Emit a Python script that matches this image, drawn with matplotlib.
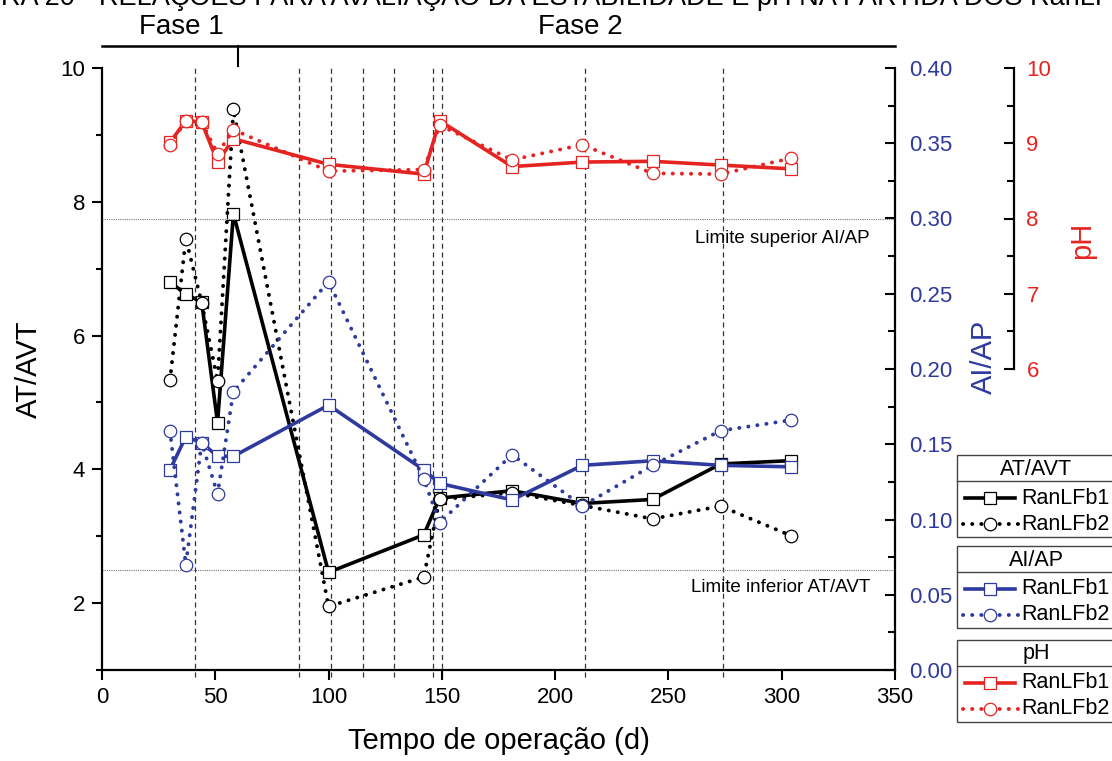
import numpy as np
import matplotlib
matplotlib.use('Agg')
import matplotlib.pyplot as plt
from matplotlib.lines import Line2D
from matplotlib.patches import Rectangle
import matplotlib.transforms as mtransforms

plt.rcParams['font.family'] = ['Liberation Sans', 'DejaVu Sans']

# dados
dias = [30, 37, 44, 51, 58, 100, 142, 149, 181, 212, 243, 273, 304]
atavt_b1 = [6.80, 6.62, 6.50, 4.70, 7.82, 2.46, 3.02, 3.57, 3.68, 3.49, 3.55, 4.08, 4.13]
atavt_b2 = [5.33, 7.45, 6.49, 5.32, 9.38, 1.95, 2.39, 3.55, 3.65, 3.46, 3.26, 3.45, 3.01]
aiap_b1 = [0.133, 0.155, 0.151, 0.142, 0.142, 0.176, 0.133, 0.124, 0.113, 0.136, 0.139, 0.136, 0.135]
aiap_b2 = [0.159, 0.070, 0.151, 0.117, 0.185, 0.258, 0.127, 0.098, 0.143, 0.109, 0.136, 0.159, 0.166]
ph_b1 = [9.01, 9.30, 9.28, 8.75, 9.06, 8.72, 8.59, 9.30, 8.69, 8.75, 8.76, 8.71, 8.66]
ph_b2 = [8.98, 9.30, 9.28, 8.86, 9.18, 8.63, 8.65, 9.24, 8.78, 8.98, 8.60, 8.59, 8.80]

linhas_tracejadas = [41, 87, 101, 115, 129, 146, 150, 213, 274]
limite_aiap = 0.30
limite_atavt = 2.5
divisao_fase = 60

PRETO = 'black'
AZUL = '#2e3a9e'
VERMELHO = '#e52421'
dots = (0, (0.05, 2.3))

W, H = 1112, 761
fig = plt.figure(figsize=(W / 100, H / 100), dpi=100)
ax = fig.add_axes([102 / W, (H - 670) / H, 793 / W, 602 / H])
ax2 = ax.twinx()
ax3 = ax.twinx()

# eixo principal AT/AVT
ax.set_xlim(0, 350)
ax.set_ylim(1, 10)
ax.set_xticks(np.arange(0, 351, 50))
ax.set_yticks([2, 4, 6, 8, 10])
ax.set_yticks([1, 3, 5, 7, 9], minor=True)
ax.spines['top'].set_visible(False)
ax.spines['right'].set_visible(False)
for s in ['left', 'bottom']:
    ax.spines[s].set_linewidth(1.6)
ax.tick_params(axis='both', which='major', direction='out', length=7, width=1.5, labelsize=16, pad=5)
ax.tick_params(axis='y', which='minor', direction='out', length=4, width=1.5)
ax.set_xlabel('Tempo de operação (d)', fontsize=21)
ax.xaxis.set_label_coords(0.5, -0.095)
ax.set_ylabel('AT/AVT', fontsize=21)
ax.yaxis.set_label_coords(-0.075, 0.5)

# linhas verticais e limites
for d in linhas_tracejadas:
    ax.axvline(d, ymin=-0.012, ymax=1, color='#333333', lw=0.9, ls=(0, (4, 3)), clip_on=False, zorder=1)
ax.axhline(limite_atavt, color='#777777', lw=0.8, ls=(0, (1, 1)), zorder=1)
ax2.axhline(limite_aiap, color='#777777', lw=0.8, ls=(0, (1, 1)), zorder=1)
ax.text(339, 7.45, 'Limite superior AI/AP', ha='right', va='center', fontsize=13.5)
ax.text(339, 2.24, 'Limite inferior AT/AVT', ha='right', va='center', fontsize=13.5)

# fases
trans = mtransforms.blended_transform_factory(ax.transData, ax.transAxes)
ax.plot([0, 350], [1.037, 1.037], transform=trans, color='black', lw=1.8, clip_on=False)
ax.plot([divisao_fase, divisao_fase], [1.037, 1.004], transform=trans, color='black', lw=1.5, clip_on=False)
ax.text(35, 1.068, 'Fase 1', transform=trans, ha='center', va='center', fontsize=20)
ax.text(211, 1.068, 'Fase 2', transform=trans, ha='center', va='center', fontsize=20)

# título cortado no topo, como na figura original
fig.text(-0.058, 1 - 5 / H, 'FIGURA 20 - RELAÇÕES PARA AVALIAÇÃO DA ESTABILIDADE E pH NA PARTIDA DOS RanLFb1 E RanLFb2',
         ha='left', va='baseline', fontsize=19.5)

mk = dict(markersize=9, markerfacecolor='white', markeredgewidth=0.9)

# AT/AVT
ax.plot(dias, atavt_b1, color=PRETO, lw=2.6, marker='s', markeredgecolor=PRETO, zorder=3, **mk)
ax.plot(dias, atavt_b2, color=PRETO, lw=2.8, ls=dots, dash_capstyle='round', marker='o',
        markeredgecolor=PRETO, zorder=3, **mk)

# AI/AP
ax2.set_ylim(0, 0.4)
ax2.set_yticks(np.arange(0, 0.401, 0.05))
ax2.set_yticks(np.arange(0.025, 0.4, 0.05), minor=True)
ax2.set_yticklabels(['%.2f' % v for v in np.arange(0, 0.401, 0.05)])
for s in ['left', 'top', 'bottom']:
    ax2.spines[s].set_visible(False)
ax2.spines['right'].set_linewidth(1.6)
ax2.tick_params(axis='y', which='major', direction='in', length=7, width=1.5, labelsize=16, labelcolor=AZUL, pad=10)
ax2.tick_params(axis='y', which='minor', direction='in', length=5, width=1.5)
ax2.set_ylabel('AI/AP', fontsize=21, color=AZUL)
ax2.yaxis.set_label_coords(1.094, 0.52)
ax2.plot(dias, aiap_b1, color=AZUL, lw=2.6, marker='s', markeredgecolor=AZUL, zorder=3, **mk)
ax2.plot(dias, aiap_b2, color=AZUL, lw=2.8, ls=dots, dash_capstyle='round', marker='o',
         markeredgecolor=AZUL, zorder=3, **mk)

# pH
ax3.set_ylim(2, 10)
ax3.spines['right'].set_position(('axes', 1.15))
ax3.spines['right'].set_bounds(6, 10)
ax3.spines['right'].set_linewidth(1.6)
for s in ['left', 'top', 'bottom']:
    ax3.spines[s].set_visible(False)
ax3.set_yticks([6, 7, 8, 9, 10])
ax3.set_yticks([6.5, 7.5, 8.5, 9.5], minor=True)
ax3.tick_params(axis='y', which='major', direction='in', length=7, width=1.5, labelsize=16, labelcolor=VERMELHO, pad=9)
ax3.tick_params(axis='y', which='minor', direction='in', length=5, width=1.5)
ax3.set_ylabel('pH', fontsize=21, color=VERMELHO)
ax3.yaxis.set_label_coords(1.218, 0.714)
ax3.plot(dias, ph_b1, color=VERMELHO, lw=2.6, marker='s', markeredgecolor=VERMELHO, zorder=3, **mk)
ax3.plot(dias, ph_b2, color=VERMELHO, lw=2.8, ls=dots, dash_capstyle='round', marker='o',
         markeredgecolor=VERMELHO, zorder=3, **mk)


# legendas em caixas
def fx(x):
    return x / W


def fy(y):
    return 1 - y / H


def caixa(topo, titulo, cor):
    esq, dir_ = 957, 1120
    fig.add_artist(Rectangle((fx(esq), fy(topo + 82)), fx(dir_ - esq), 82 / H, transform=fig.transFigure,
                             facecolor='white', edgecolor='#444444', lw=1))
    fig.add_artist(Line2D([fx(esq), fx(dir_)], [fy(topo + 26)] * 2, transform=fig.transFigure, color='#444444', lw=1))
    fig.text(fx(1036), fy(topo + 14), titulo, ha='center', va='center', fontsize=15.5)
    y1, y2 = topo + 43, topo + 69
    fig.add_artist(Line2D([fx(965), fx(1015)], [fy(y1)] * 2, transform=fig.transFigure, color=cor, lw=2.6))
    fig.add_artist(Line2D([fx(990)], [fy(y1)], transform=fig.transFigure, marker='s', markeredgecolor=cor, **mk))
    fig.add_artist(Line2D([fx(963), fx(1018)], [fy(y2)] * 2, transform=fig.transFigure, color=cor, lw=2.8,
                          ls=dots, dash_capstyle='round'))
    fig.add_artist(Line2D([fx(990)], [fy(y2)], transform=fig.transFigure, marker='o', markeredgecolor=cor, **mk))
    fig.text(fx(1021), fy(y1), 'RanLFb1', ha='left', va='center', fontsize=15.5)
    fig.text(fx(1021), fy(y2), 'RanLFb2', ha='left', va='center', fontsize=15.5)


caixa(455, 'AT/AVT', PRETO)
caixa(546, 'AI/AP', AZUL)
caixa(640, 'pH', VERMELHO)

fig.savefig('out.png', dpi=100)
